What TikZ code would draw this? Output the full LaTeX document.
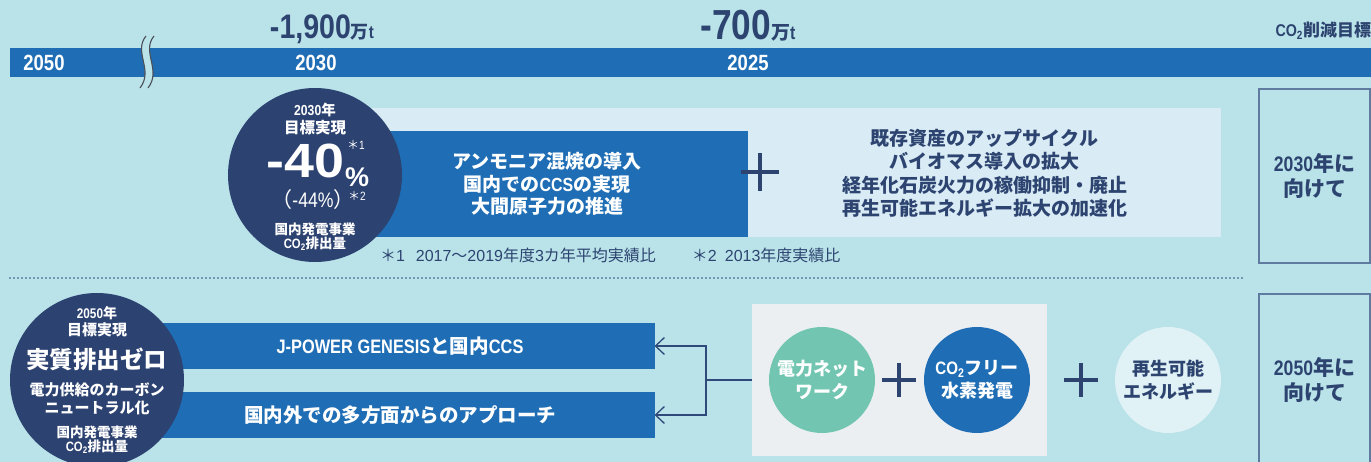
\documentclass[tikz,border=0pt]{standalone}
\usepackage{fontspec}
\setmainfont{Noto Sans CJK JP}
\newfontfamily\cnd{Liberation Sans}[FakeStretch=0.84]
\newfontfamily\wide{Liberation Sans}
\newfontfamily\wider{Liberation Sans}[FakeStretch=1.12]
\usetikzlibrary{arrows.meta}
\definecolor{bgc}{HTML}{B9E3E9}
\definecolor{barblue}{HTML}{1F6EB5}
\definecolor{navyc}{HTML}{2C4270}
\definecolor{txtnavy}{HTML}{2D4470}
\definecolor{lightbox}{HTML}{D9EBF5}
\definecolor{greybox}{HTML}{ECEFF2}
\definecolor{mintc}{HTML}{72C6B1}
\definecolor{palec}{HTML}{E1F2F6}
\definecolor{borderc}{HTML}{5F7BA0}
\definecolor{connc}{HTML}{2F4A7A}
\definecolor{breakc}{HTML}{4A4F58}
\newcommand\fs[2]{\fontsize{#1}{#2}\selectfont}
\begin{document}
\begin{tikzpicture}[x=1pt,y=-1pt,
  every node/.style={inner sep=0pt, outer sep=0pt},
  bar/.style={fill=barblue, text=white, font=\bfseries\fs{19.5}{23}},
  yearlbl/.style={text=white, font=\cnd\bfseries\fs{22}{22}},
  goalbox/.style={draw=borderc, line width=1.5pt, text=txtnavy, align=center, minimum width=111pt, font=\bfseries\fs{21}{25}},
  bigcirc/.style={circle, fill=navyc, minimum size=174pt},
  smallcirc/.style={circle, minimum size=106pt, align=center, font=\bfseries\fs{18}{22.5}},
  wtxt/.style={text=white, align=center},
  plusmark/.style={draw=txtnavy, line width=3.5pt},
  conn/.style={draw=connc, line width=1.3pt},
  arr/.style={-{Straight Barb[length=9pt,width=17pt]}},
]
\fill[bgc] (0,0) rectangle (1371,462);
\useasboundingbox (0,0) rectangle (1371,462);
% ---------- timeline ----------
\node[fill=barblue, minimum width=1361pt, minimum height=29pt, anchor=north west] (tl) at (10,48) {};
\fill[bgc] (146,36) .. controls (133,52) and (154,70) .. (140,88) -- (148,88) .. controls (162,70) and (141,52) .. (154,36) -- cycle;
\draw[breakc, line width=1.1pt] (146,36) .. controls (133,52) and (154,70) .. (140,88)
  (154,36) .. controls (141,52) and (162,70) .. (148,88);
\node[yearlbl] (y2050) at (44,62.5) {2050};
\node[yearlbl] (y2030) at (316,62.5) {2030};
\node[yearlbl] (y2025) at (748,62.5) {2025};
\node[text=txtnavy, anchor=base] (t1900) at (322,39) {{\cnd\bfseries\fs{34}{34}-1,900}{\bfseries\fs{18}{18}万}{\cnd\bfseries\fs{18}{18}t}};
\node[text=txtnavy, anchor=base] (t700) at (748,40) {{\cnd\bfseries\fs{42}{42}-700}{\bfseries\fs{19}{19}万}{\cnd\bfseries\fs{19}{19}t}};
\node[text=txtnavy, anchor=east, font=\bfseries\fs{17}{17}] (goal) at (1371,31) {{\cnd CO\textsubscript{2}}削減目標};
% ---------- 2030 section ----------
\node[fill=lightbox, minimum width=875pt, minimum height=129pt, anchor=north west] (lb30) at (346,108) {};
\node[fill=barblue, minimum width=402pt, minimum height=106pt, anchor=north west, text=white, align=center, font=\bfseries\fs{19}{22.5}] (act30) at (346,131) {アンモニア混焼の導入\\国内での{\cnd CCS}の実現\\大間原子力の推進};
\node[text=txtnavy, align=center, font=\bfseries\fs{19}{23.5}] (ext30) at (984.5,173) {既存資産のアップサイクル\\バイオマス導入の拡大\\経年化石炭火力の稼働抑制・廃止\\再生可能エネルギー拡大の加速化};
\coordinate (plus30) at (760,172);
\draw[plusmark, line width=4pt] ([xshift=-19pt]plus30) -- ([xshift=19pt]plus30) ([yshift=-19pt]plus30) -- ([yshift=19pt]plus30);
\node[bigcirc] (c30) at (315,175) {};
\node[wtxt, font=\bfseries\fs{14.5}{14.5}] (c30a) at (315,110) {{\cnd 2030}年};
\node[wtxt, font=\bfseries\fs{15.5}{15.5}] (c30b) at (315,128) {目標実現};
\node[wtxt, anchor=base east, font=\wider\bfseries\fs{48}{48}] (c30c) at (344,178) {-40};
\node[wtxt, anchor=base west, font=\wide\bfseries\fs{27}{27}] (c30d) at (345,187) {\%};
\node[wtxt, anchor=base west, font=\fs{12}{12}] (c30e) at (347,150) {＊{\cnd 1}};
\node[wtxt, anchor=base, font=\fs{21}{21}] (c30f) at (313,208) {（{\cnd -44\%}）};
\node[wtxt, anchor=base west, font=\fs{12}{12}] (c30g) at (348,201) {＊{\cnd 2}};
\node[wtxt, font=\bfseries\fs{13.5}{13.5}] (c30h) at (315,229.5) {国内発電事業};
\node[wtxt, font=\bfseries\fs{13.5}{13.5}] (c30i) at (315,243.5) {{\cnd CO\textsubscript{2}}排出量};
\node[anchor=west, text=txtnavy, font=\fs{16}{16}] (fn) at (380,255) {＊{\wide 1}\hspace{11pt}{\wide 2017}～{\wide 2019}年度{\wide 3}カ年平均実績比\hspace{36pt}＊{\wide 2}\hspace{8pt}{\wide 2013}年度実績比};
\node[goalbox, minimum height=174pt, anchor=north west] (g30) at (1259,89) {{\cnd 2030}年に\\向けて};
% separator
\draw[connc, line width=1.7pt, line cap=round, dash pattern=on 0pt off 4pt] (10,278) -- (1245,278);
% ---------- 2050 section ----------
\node[bar, minimum width=509pt, minimum height=46pt] (b1) at (400,346) {{\cnd J-POWER GENESIS}と国内{\cnd CCS}};
\node[bar, minimum width=509pt, minimum height=46pt] (b2) at (400,415) {国内外での多方面からのアプローチ};
\node[bigcirc] (c50) at (97,380) {};
\node[wtxt, font=\bfseries\fs{14}{14}] (c50a) at (97,313) {{\cnd 2050}年};
\node[wtxt, font=\bfseries\fs{15}{15}] (c50b) at (97,330) {目標実現};
\node[wtxt, font=\bfseries\fs{23.5}{23.5}] (c50c) at (97,359) {実質排出ゼロ};
\node[wtxt, font=\bfseries\fs{15}{18}] (c50d) at (97,398.5) {電力供給のカーボン\\ニュートラル化};
\node[wtxt, font=\bfseries\fs{13.5}{13.5}] (c50e) at (97,432.5) {国内発電事業};
\node[wtxt, font=\bfseries\fs{13.5}{13.5}] (c50f) at (97,446.5) {{\cnd CO\textsubscript{2}}排出量};
\node[fill=greybox, minimum width=295pt, minimum height=152pt] (gb) at (899.5,380) {};
\node[smallcirc, fill=mintc, text=white] (cn) at (822,380) {電力ネット\\ワーク};
\node[smallcirc, fill=barblue, text=white] (ch) at (977,380) {{\cnd CO\textsubscript{2}}フリー\\水素発電};
\node[smallcirc, fill=palec, text=txtnavy] (cr) at (1168,380) {再生可能\\エネルギー};
\coordinate (plusA) at (899,380);
\coordinate (plusB) at (1081,380);
\draw[plusmark] ([xshift=-17pt]plusA) -- ([xshift=17pt]plusA) ([yshift=-17pt]plusA) -- ([yshift=17pt]plusA);
\draw[plusmark] ([xshift=-17pt]plusB) -- ([xshift=17pt]plusB) ([yshift=-17pt]plusB) -- ([yshift=17pt]plusB);
\coordinate (jn) at (706,380);
\draw[conn] (gb.west) -- (jn);
\draw[conn, arr] (jn) |- (b1.east);
\draw[conn, arr] (jn) |- (b2.east);
\node[goalbox, minimum height=172pt, anchor=north west] (g50) at (1259,294) {{\cnd 2050}年に\\向けて};
\end{tikzpicture}
\end{document}
